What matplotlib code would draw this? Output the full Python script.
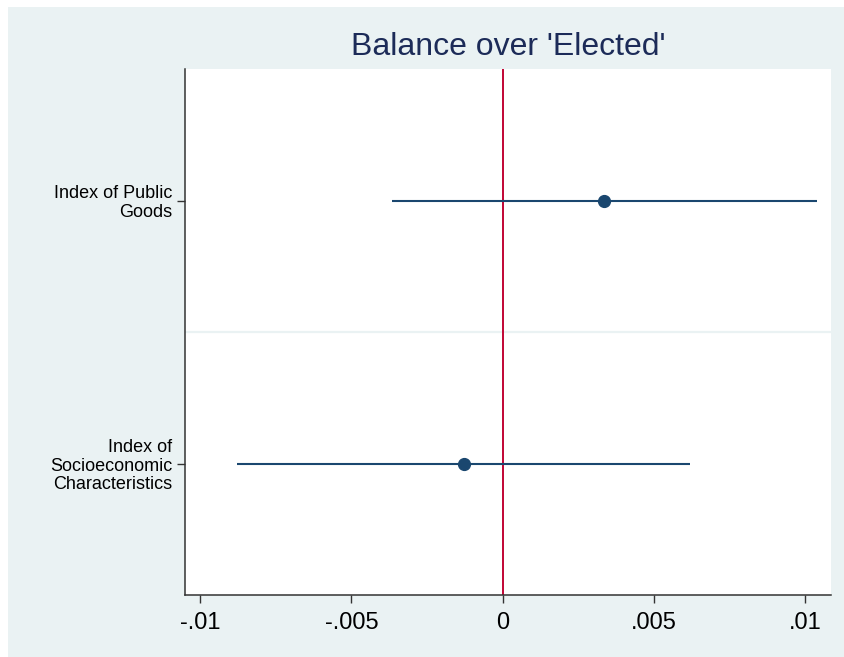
import matplotlib.pyplot as plt
from matplotlib.patches import Rectangle

plt.rcParams['font.family'] = ['Liberation Sans', 'DejaVu Sans']

# coefficients and 95% CIs
labels = ['Index of Public\nGoods', 'Index of\nSocioeconomic\nCharacteristics']
coefs = [0.00336, -0.00129]
ci_low = [-0.00367, -0.00877]
ci_high = [0.01040, 0.00619]
ticks = [-0.01, -0.005, 0, 0.005, 0.01]
tick_labels = ['-.01', '-.005', '0', '.005', '.01']

bg = '#eaf2f3'
navy = '#1a476f'

fig = plt.figure(figsize=(8.44, 6.57), dpi=100, facecolor='white')
fig.patches.append(Rectangle((8 / 844, 0), 1, (657 - 7) / 657,
                             transform=fig.transFigure, facecolor=bg,
                             edgecolor='none', zorder=-1))

ax = fig.add_axes([185 / 844, 1 - 595 / 657, (831 - 185) / 844, (595 - 69) / 657])
ax.set_facecolor('white')

ypos = [1, 2]
ax.hlines(ypos, ci_low, ci_high, color=navy, lw=1.5, zorder=3)
ax.plot(coefs, ypos, 'o', color=navy, ms=8.5, zorder=4)
ax.axvline(0, color='#c10534', lw=1.4, zorder=2)
ax.axhline(1.5, color=bg, lw=1.6, zorder=1)

ax.set_xlim(-0.0105, 0.01086)
ax.set_ylim(2.5, 0.5)
ax.set_xticks(ticks)
ax.set_xticklabels(tick_labels, fontsize=17)
ax.set_yticks(ypos)
ax.set_yticklabels(labels, fontsize=13, ha='right', linespacing=1.12)
ax.tick_params(axis='x', length=6, width=1, color='#333333', pad=6)
ax.tick_params(axis='y', length=6, width=1, color='#333333', pad=3)

for s in ['top', 'right']:
    ax.spines[s].set_visible(False)
for s in ['left', 'bottom']:
    ax.spines[s].set_color('#333333')
    ax.spines[s].set_linewidth(1.1)

ax.set_title("Balance over 'Elected'", fontsize=23, color='#1c2b58', pad=10)

fig.savefig('out.png', dpi=100, facecolor=fig.get_facecolor())
